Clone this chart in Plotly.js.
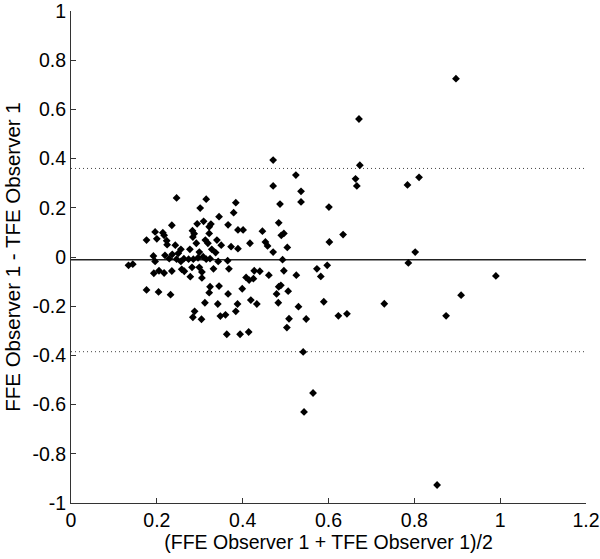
<!DOCTYPE html>
<html>
<head>
<meta charset="utf-8">
<script src="https://cdn.plot.ly/plotly-3.0.1.min.js"></script>
<style>html,body{margin:0;padding:0;background:#fff;}#chart{width:600px;height:559px;}</style>
</head>
<body>
<div id="chart"></div>
<script>
// Mean of the two measurements (x) and their difference (y)
const meanValues = [
  0.134,0.144,0.176,0.196,0.200,0.214,0.217,0.223,0.224,0.235,0.243,0.256,0.246,0.192,0.196,
  0.219,0.229,0.236,0.246,0.250,0.256,0.263,0.274,0.285,0.296,0.308,0.277,0.299,0.292,0.283,
  0.287,0.284,0.294,0.309,0.301,0.315,0.313,0.193,0.205,0.217,0.235,0.258,0.264,0.282,0.299,
  0.305,0.278,0.305,0.176,0.204,0.232,0.324,0.322,0.312,0.288,0.284,0.304,0.326,0.322,0.322,
  0.345,0.379,0.384,0.366,0.389,0.401,0.446,0.453,0.458,0.471,0.504,0.417,0.373,0.389,0.340,
  0.350,0.319,0.328,0.337,0.315,0.324,0.343,0.365,0.493,0.332,0.368,0.427,0.440,0.461,0.496,
  0.525,0.408,0.415,0.425,0.399,0.345,0.366,0.484,0.489,0.479,0.506,0.419,0.433,0.388,0.342,
  0.483,0.530,0.384,0.360,0.348,0.508,0.503,0.484,0.487,0.496,0.490,0.536,0.536,0.471,0.471,
  0.524,0.363,0.394,0.414,0.548,0.673,0.663,0.666,0.601,0.634,0.602,0.784,0.811,0.802,0.786,
  0.573,0.597,0.582,0.589,0.730,0.623,0.643,0.874,0.909,0.990,0.897,0.541,0.564,0.543,0.853,
  0.671
];
const diffValues = [
  -0.034,-0.029,0.069,0.102,0.074,0.099,0.088,0.066,0.050,0.129,0.048,0.031,0.240,0.004,-0.018,
  0.007,-0.007,0.011,-0.009,0.015,-0.018,-0.007,-0.009,-0.009,-0.003,0.001,0.031,0.020,0.056,0.107,
  0.095,0.081,0.135,0.145,0.199,0.235,0.069,-0.066,-0.056,-0.065,-0.057,-0.050,-0.058,-0.042,-0.042,
  -0.061,-0.080,-0.085,-0.134,-0.142,-0.153,-0.121,-0.145,-0.186,-0.221,-0.245,-0.253,0.134,0.123,0.096,
  0.164,0.180,0.221,0.131,0.110,0.110,0.105,0.061,0.045,0.020,0.039,0.056,0.042,0.034,0.069,
  0.048,0.056,0.031,0.018,-0.009,-0.007,-0.018,-0.015,-0.011,-0.048,-0.048,-0.056,-0.058,-0.074,-0.056,
  -0.074,-0.083,-0.094,-0.088,-0.129,-0.118,-0.150,-0.121,-0.115,-0.150,-0.139,-0.175,-0.191,-0.191,-0.191,
  -0.186,-0.202,-0.221,-0.235,-0.240,-0.251,-0.287,0.139,0.215,0.096,0.088,0.224,0.267,0.394,0.289,
  0.333,-0.314,-0.314,-0.305,-0.252,0.373,0.318,0.289,0.203,0.091,0.061,0.293,0.324,0.020,-0.024,
  -0.048,-0.034,-0.079,-0.182,-0.190,-0.239,-0.231,-0.239,-0.155,-0.077,0.725,-0.386,-0.553,-0.630,-0.927,
  0.561
];
const meanDiff = -0.011;
const upperLimit = 0.36;
const lowerLimit = -0.385;
const xTickVals = [0,0.2,0.4,0.6,0.8,1,1.2];
const xTickText = ["0","0.2","0.4","0.6","0.8","1","1.2"];
const yTickVals = [-1,-0.8,-0.6,-0.4,-0.2,0,0.2,0.4,0.6,0.8,1];
const yTickText = ["-1","-0.8","-0.6","-0.4","-0.2","0","0.2","0.4","0.6","0.8","1"];
const xRange = [0,1.2];
const yRange = [-1.0001,1.0001];

const font = {family:"Liberation Sans, Arial, sans-serif", size:19.5, color:"#000"};

const traces = [{
  x: meanValues, y: diffValues, type:"scatter", mode:"markers",
  marker:{symbol:"diamond", size:6, color:"#000"},
  hoverinfo:"x+y", cliponaxis:false
}];

const hline = (y, dash, color, width) => ({
  type:"line", xref:"x", yref:"y", x0:xRange[0], x1:xRange[1], y0:y, y1:y,
  line:{color:color, width:width, dash:dash}, layer:"below"
});

const layout = {
  width:600, height:559,
  margin:{l:71, r:14, t:11, b:56, pad:0},
  paper_bgcolor:"#fff", plot_bgcolor:"#fff",
  showlegend:false,
  font: font,
  xaxis:{
    range:xRange, tickvals:xTickVals, ticktext:xTickText,
    showgrid:false, zeroline:false, showline:true, linecolor:"#333", linewidth:1,
    ticks:"inside", ticklen:5, tickcolor:"#333", tickfont:font,
    title:{text:"(FFE Observer 1 + TFE Observer 1)/2", font:{family:font.family, size:19.5, color:"#000"}, standoff:0}
  },
  yaxis:{
    range:yRange, tickvals:yTickVals, ticktext:yTickText,
    showgrid:false, zeroline:false, showline:true, linecolor:"#333", linewidth:1,
    ticks:"inside", ticklen:5, tickcolor:"#333", tickfont:font,
    ticklabeloverflow:"allow",
    title:{text:"FFE Observer 1 - TFE Observer 1", font:{family:font.family, size:20.5, color:"#000"}, standoff:6}
  },
  shapes:[
    hline(meanDiff, "solid", "#222", 1.6),
    hline(upperLimit, "1px,3px", "#444", 1),
    hline(lowerLimit, "1px,3px", "#444", 1)
  ]
};

Plotly.newPlot("chart", traces, layout, {displayModeBar:false, staticPlot:true});
</script>
</body>
</html>
